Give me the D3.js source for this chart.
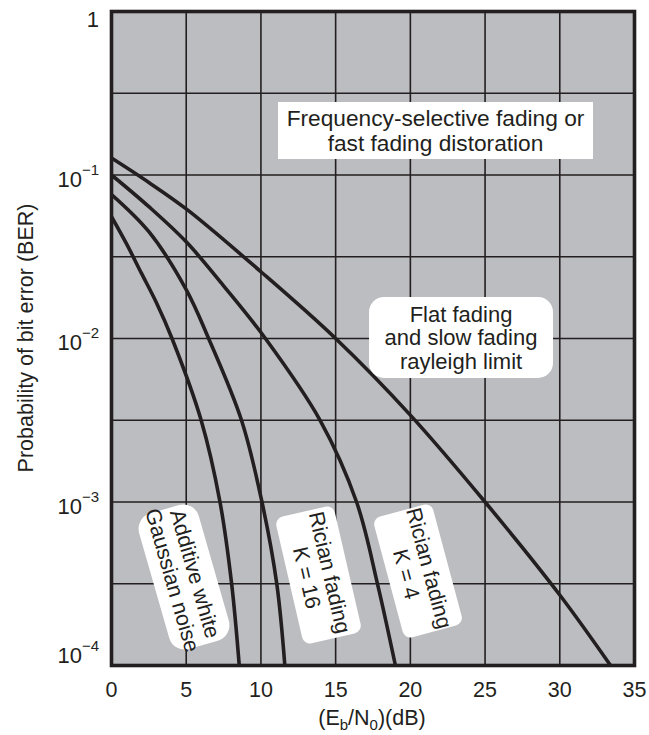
<!DOCTYPE html>
<html>
<head>
<meta charset="utf-8">
<script src="https://cdn.jsdelivr.net/npm/d3@7"></script>
<style>
  body{margin:0;background:#fff;}
  text{font-family:"Liberation Sans",Arial,Helvetica,sans-serif;fill:#231f20;}
</style>
</head>
<body>
<svg id="chart" width="649" height="735"></svg>
<script>
// x ticks (Eb/N0 in dB) and y ticks (BER)
var xTicks = [0,5,10,15,20,25,30,35];
var yTicks = [1,1e-1,1e-2,1e-3,1e-4];
var yTickExp = [null,-1,-2,-3,-4];

// curves
var awgnX = [0,1,2,3,4.05,6.0,7.26,8.04,8.55];
var awgnY = [0.0556,0.038,0.0251,0.0166,0.01,0.00316,0.001,0.000316,0.0001];

var k16X = [0,2.5,5,6.5,8.7,10.07,11.06,11.6];
var k16Y = [0.076,0.045,0.0199,0.01,0.00316,0.001,0.000316,0.0001];

var k4X = [0,2.5,5,7.5,10.3,13.96,16.4,17.8,19.0];
var k4Y = [0.1,0.064,0.039,0.021,0.01,0.00316,0.001,0.000316,0.0001];

var rayX = [0,2.5,5,10,15,20,25,30,33.4];
var rayY = [0.127,0.09,0.062,0.0256,0.01,0.0034,0.001,0.00027,0.0001];

var INK = "#231f20";
var svg = d3.select('#chart');

var x = d3.scaleLinear().domain([0,35]).range([111.5,634.5]);
var y = d3.scaleLog().domain([1e-4,1]).range([665.5,11.5]);

//plot background
svg.append('rect')
    .attr('x',x(0)).attr('y',y(1))
    .attr('width',x(35)-x(0)).attr('height',y(1e-4)-y(1))
    .attr('fill','#bcbdc0');

//grid: every 5 dB and every half decade
var gridX = xTicks.slice(1,-1);
var gridY = d3.range(1,8).map(function(i){return Math.pow(10,-i/2);});
svg.selectAll('.gx').data(gridX).enter().append('line')
    .attr('class','gx')
    .attr('x1',function(d){return x(d);}).attr('x2',function(d){return x(d);})
    .attr('y1',y(1)).attr('y2',y(1e-4))
    .attr('stroke',INK).attr('stroke-width',1.6);
svg.selectAll('.gy').data(gridY).enter().append('line')
    .attr('class','gy')
    .attr('x1',x(0)).attr('x2',x(35))
    .attr('y1',function(d){return y(d);}).attr('y2',function(d){return y(d);})
    .attr('stroke',INK).attr('stroke-width',1.6);

svg.append('clipPath').attr('id','plotclip').append('rect')
    .attr('x',x(0)).attr('y',y(1))
    .attr('width',x(35)-x(0)).attr('height',y(1e-4)-y(1));

var line = d3.line()
    .x(function(d){return x(d[0]);})
    .y(function(d){return y(d[1]);})
    .curve(d3.curveCatmullRom.alpha(0.5));

var series = [[awgnX,awgnY],[k16X,k16Y],[k4X,k4Y],[rayX,rayY]];
svg.append('g').attr('clip-path','url(#plotclip)')
    .selectAll('path').data(series).enter().append('path')
    .attr('d',function(s){return line(d3.zip(s[0],s[1]));})
    .attr('fill','none').attr('stroke',INK).attr('stroke-width',3.6);

//frame
svg.append('rect')
    .attr('x',x(0)).attr('y',y(1))
    .attr('width',x(35)-x(0)).attr('height',y(1e-4)-y(1))
    .attr('fill','none').attr('stroke',INK).attr('stroke-width',3.6);

//x tick labels
svg.selectAll('.xt').data(xTicks).enter().append('text')
    .attr('class','xt')
    .attr('x',function(d){return x(d);}).attr('y',697)
    .attr('text-anchor','middle').attr('font-size',21.5)
    .text(function(d){return d;});

//y tick labels
var yt = svg.selectAll('.yt').data(yTicks).enter().append('text')
    .attr('class','yt')
    .attr('x',99)
    .attr('y',function(d,i){
        if(i==0) return y(d)+15.5;
        if(i==yTicks.length-1) return y(d)-2.5;
        return y(d)+11.5;
    })
    .attr('text-anchor','end').attr('font-size',22);
yt.each(function(d,i){
    var t = d3.select(this);
    if(yTickExp[i]===null){t.text('1');return;}
    t.append('tspan').text('10');
    t.append('tspan').attr('dy',-12).attr('font-size',15)
        .text('\u2212'+Math.abs(yTickExp[i]));
});

//axis titles
var xt = svg.append('text').attr('x',372).attr('y',725)
    .attr('text-anchor','middle').attr('font-size',21.5);
xt.append('tspan').text('(E');
xt.append('tspan').attr('dy',5).attr('font-size',15).text('b');
xt.append('tspan').attr('dy',-5).text('/N');
xt.append('tspan').attr('dy',5).attr('font-size',15).text('0');
xt.append('tspan').attr('dy',-5).text(')(dB)');

svg.append('text')
    .attr('transform','translate(33,338) rotate(-90)')
    .attr('text-anchor','middle').attr('font-size',21.5)
    .text('Probability of bit error (BER)');

//annotation boxes
var boxLabel = function(cx,cy,w,h,r,angle,lines,fs,lh){
    var g = svg.append('g')
        .attr('transform','translate('+cx+','+cy+') rotate('+angle+')');
    g.append('rect')
        .attr('x',-w/2).attr('y',-h/2).attr('width',w).attr('height',h)
        .attr('rx',r).attr('ry',r).attr('fill','#fff');
    var y0 = -(lines.length-1)*lh/2;
    lines.forEach(function(l,i){
        g.append('text')
            .attr('x',0).attr('y',y0+i*lh)
            .attr('dy','0.35em')
            .attr('text-anchor','middle').attr('font-size',fs)
            .text(l);
    });
};

boxLabel(435.5,130.5,315,57,0,0,
    ['Frequency-selective fading or','fast fading distoration'],22.7,24.5);
boxLabel(461,337.5,184,81,15,0,
    ['Flat fading','and slow fading','rayleigh limit'],22,23.5);
boxLabel(184,577,141,62,16,74,
    ['Additive white','Gaussian noise'],21.5,23.5);
boxLabel(318.5,575,130,60,8,77,
    ['Rician fading','K = 16'],21.5,23.5);
boxLabel(418,571,125,61,8,75,
    ['Rician fading','K = 4'],21.5,23.5);
</script>
</body>
</html>
